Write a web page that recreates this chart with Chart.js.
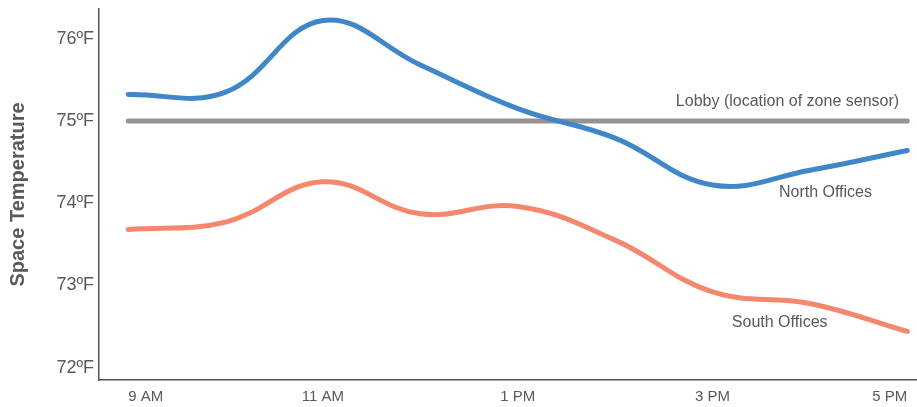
<!DOCTYPE html>
<html>
<head>
<meta charset="utf-8">
<script src="https://cdn.jsdelivr.net/npm/chart.js@4/dist/chart.umd.min.js"></script>
<style>
  html, body { margin: 0; padding: 0; background: #fff; }
  #wrap { width: 917px; height: 407px; }
</style>
</head>
<body>
<div id="wrap"><canvas id="tempChart"></canvas></div>
<script>
// hours of the day (24h clock)
const hours = [9, 10, 11, 12, 13, 14, 15, 16, 17];
const northOffices = [75.32, 75.35, 76.22, 75.68, 75.15, 74.79, 74.22, 74.40, 74.64];
const southOffices = [73.68, 73.77, 74.26, 73.87, 73.96, 73.55, 72.92, 72.78, 72.44];
const lobby = [75, 75, 75, 75, 75, 75, 75, 75, 75];

const xTickHours = [9, 11, 13, 15, 17];
const xTickLabels = ['9 AM', '11 AM', '1 PM', '3 PM', '5 PM'];
const yTickValues = [72, 73, 74, 75, 76];

// text labels next to the lines, placed in data units
const seriesNotes = [
    { text: 'Lobby (location of zone sensor)', x: 15.77, y: 75.23 },
    { text: 'North Offices', x: 16.16, y: 74.13 },
    { text: 'South Offices', x: 15.69, y: 72.55 }
];

const textGray = '#595959';
const fontFamily = '"Liberation Sans", Arial, sans-serif';

const notesPlugin = {
    id: 'seriesNotes',
    afterDatasetsDraw(chart) {
        const ctx = chart.ctx;
        const xs = chart.scales.x, ys = chart.scales.y;
        ctx.save();
        ctx.font = '16px ' + fontFamily;
        ctx.fillStyle = textGray;
        ctx.textAlign = 'center';
        ctx.textBaseline = 'middle';
        seriesNotes.forEach(n => {
            ctx.fillText(n.text, xs.getPixelForValue(n.x), ys.getPixelForValue(n.y));
        });
        ctx.restore();
    }
};

const toPoints = vals => vals.map((v, i) => ({ x: hours[i], y: v }));

const ctx = document.getElementById('tempChart').getContext('2d');
new Chart(ctx, {
    type: 'line',
    data: {
        datasets: [{
            label: 'South Offices',
            data: toPoints(southOffices),
            borderColor: '#f4876d',
            borderWidth: 5,
            tension: 0.4,
            pointRadius: 0,
            borderCapStyle: 'round',
            order: 3
        }, {
            label: 'North Offices',
            data: toPoints(northOffices),
            borderColor: '#3f87c9',
            borderWidth: 5,
            tension: 0.4,
            pointRadius: 0,
            borderCapStyle: 'round',
            order: 1
        }, {
            label: 'Lobby',
            data: toPoints(lobby),
            borderColor: '#969292',
            borderWidth: 5,
            tension: 0,
            pointRadius: 0,
            borderCapStyle: 'round',
            order: 2
        }]
    },
    options: {
        responsive: true,
        maintainAspectRatio: false,
        animation: false,
        layout: { padding: { top: 9, right: 0, left: 0, bottom: 0 } },
        plugins: {
            legend: { display: false },
            tooltip: { enabled: false }
        },
        scales: {
            x: {
                type: 'linear',
                min: 8.7,
                max: 17.1,
                grid: { display: false, drawTicks: false },
                border: { display: true, color: '#555', width: 1.5 },
                afterBuildTicks: s => { s.ticks = xTickHours.map(v => ({ value: v })); },
                afterFit: s => { s.height = 27; s.paddingLeft = 0; s.paddingRight = 0; },
                ticks: {
                    padding: 8,
                    align: 'inner',
                    color: textGray,
                    font: { size: 15, family: fontFamily },
                    maxRotation: 0,
                    callback: v => xTickLabels[xTickHours.indexOf(v)]
                }
            },
            y: {
                min: 71.85,
                max: 76.36,
                grid: { display: false, drawTicks: false },
                border: { display: true, color: '#555', width: 1.5 },
                afterBuildTicks: s => { s.ticks = yTickValues.map(v => ({ value: v })); },
                afterFit: s => { s.width = 99; s.paddingTop = 0; s.paddingBottom = 0; },
                ticks: {
                    padding: 5,
                    color: textGray,
                    font: { size: 18, family: fontFamily },
                    callback: v => v + '\u00baF'
                },
                title: {
                    display: true,
                    text: 'Space Temperature',
                    color: textGray,
                    font: { size: 20, weight: 'bold', family: fontFamily },
                    padding: { top: 6, bottom: 0 }
                }
            }
        }
    },
    plugins: [notesPlugin]
});
</script>
</body>
</html>
